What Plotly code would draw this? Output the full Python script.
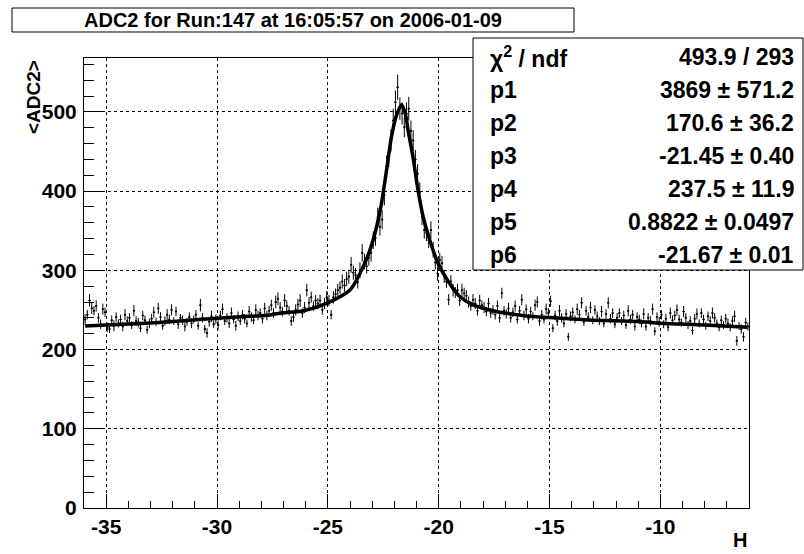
import numpy as np
import plotly.graph_objects as go

# ---- profile data: bin centres (0.1 wide bins from -36 to -6), mean ADC2 and its error ----
bin_lo = -36.0
bin_width = 0.1
adc_mean = [
    238, 244, 262, 252, 249, 255, 240, 232, 251, 247,
    228, 226, 237, 230, 241, 233, 238, 229, 244, 236,
    240, 231, 249, 236, 234, 227, 243, 237, 225, 233,
    239, 247, 235, 252, 241, 230, 236, 244, 238, 250,
    236, 248, 232, 240, 237, 229, 235, 241, 233, 238,
    244, 230, 256, 240, 226, 221, 235, 242, 232, 238,
    231, 243, 251, 236, 240, 233, 246, 238, 230, 242,
    236, 244, 239, 233, 248, 241, 237, 250, 243, 246,
    239, 252, 243, 249, 256, 246, 260, 264, 253, 248,
    262, 255, 249, 236, 241, 250, 257, 262, 246, 253,
    275, 259, 266, 255, 262, 258, 262, 250, 258, 266,
    262, 244, 266, 270, 275, 278, 286, 281, 289, 292,
    307, 297, 294, 285, 300, 322, 311, 305, 316, 322,
    338, 341, 367, 355, 364, 395, 431, 443, 464, 489,
    512, 531, 504, 498, 481, 498, 504, 476, 464, 440,
    422, 399, 368, 351, 347, 338, 351, 326, 310, 296,
    313, 309, 292, 286, 263, 286, 275, 272, 275, 262,
    275, 271, 268, 260, 255, 263, 258, 249, 262, 256,
    253, 248, 258, 246, 250, 244, 255, 240, 271, 249,
    245, 252, 240, 247, 255, 238, 249, 263, 243, 251,
    239, 248, 242, 256, 260, 236, 244, 238, 251, 246,
    261, 227, 243, 236, 249, 240, 233, 245, 216, 242,
    247, 238, 251, 244, 259, 235, 249, 241, 253, 237,
    250, 242, 236, 248, 233, 245, 259, 239, 246, 232,
    240, 246, 236, 243, 231, 249, 238, 244, 229, 241,
    238, 233, 245, 229, 240, 236, 251, 223, 241, 235,
    244, 232, 239, 228, 246, 237, 243, 250, 238, 234,
    248, 240, 231, 236, 224, 239, 245, 233, 246, 238,
    230, 242, 236, 246, 240, 233, 228, 237, 231, 239,
    233, 228, 236, 242, 211, 230, 226, 216, 234, 229,
]
adc_err = [
    7, 6, 8, 7, 6, 7, 6, 6, 7, 6,
    6, 5, 6, 7, 6, 5, 6, 6, 7, 6,
    6, 5, 7, 6, 6, 5, 6, 6, 5, 6,
    6, 7, 5, 7, 6, 5, 6, 7, 6, 7,
    5, 6, 6, 5, 6, 6, 5, 6, 6, 5,
    6, 5, 8, 6, 5, 6, 6, 7, 5, 6,
    6, 6, 7, 5, 6, 6, 7, 5, 6, 6,
    5, 6, 6, 5, 7, 6, 5, 7, 6, 6,
    6, 7, 6, 6, 7, 6, 8, 8, 7, 6,
    8, 7, 6, 6, 6, 7, 7, 8, 6, 7,
    8, 7, 7, 6, 7, 7, 7, 6, 7, 8,
    7, 6, 8, 7, 8, 8, 9, 8, 9, 9,
    10, 9, 9, 8, 10, 11, 10, 9, 10, 11,
    11, 10, 12, 11, 12, 13, 14, 13, 14, 15,
    15, 16, 14, 14, 13, 14, 15, 13, 13, 12,
    12, 12, 11, 11, 10, 10, 11, 10, 9, 9,
    9, 9, 8, 8, 7, 8, 8, 7, 8, 7,
    8, 7, 7, 7, 6, 7, 7, 6, 7, 6,
    7, 6, 7, 6, 6, 6, 7, 6, 7, 6,
    6, 7, 6, 6, 7, 5, 6, 7, 6, 6,
    6, 6, 5, 7, 7, 6, 6, 5, 7, 6,
    7, 5, 6, 6, 7, 6, 5, 6, 5, 6,
    6, 5, 7, 6, 7, 5, 6, 6, 7, 5,
    6, 6, 5, 7, 5, 6, 7, 6, 6, 5,
    6, 6, 5, 6, 5, 7, 6, 6, 5, 6,
    6, 5, 7, 5, 6, 6, 7, 5, 6, 6,
    6, 5, 6, 5, 7, 6, 6, 7, 6, 5,
    7, 6, 5, 6, 5, 6, 7, 5, 6, 6,
    5, 6, 6, 7, 6, 5, 5, 6, 5, 6,
    6, 5, 6, 7, 6, 5, 6, 6, 6, 5,
]
bin_centre = [bin_lo + bin_width * (i + 0.5) for i in range(len(adc_mean))]

# ---- fitted curve, sampled along H ----
fit_h = [-35.95, -35.0, -33.0, -31.66, -30.0, -28.5, -27.6, -27.16, -26.1, -25.0,
         -24.0, -23.55, -23.1, -22.8, -22.58, -22.35, -22.13, -21.9, -21.67,
         -21.5, -21.38, -21.16, -20.93, -20.7, -20.4, -20.03, -19.5, -19.05,
         -18.45, -17.7, -16.95, -16.05, -15.0, -13.2, -10.94, -10.0, -8.0, -6.05]
fit_adc = [229.8, 231.0, 233.5, 236.1, 239.5, 242.0, 243.7, 245.8, 249.0, 259.0,
           275.2, 296.0, 325.6, 355.0, 384.5, 426.5, 468.5, 496.0, 509.0,
           497.0, 477.0, 443.0, 401.0, 367.6, 338.0, 309.0, 283.0, 267.0,
           256.3, 250.0, 245.8, 242.4, 240.3, 237.4, 235.3, 233.2, 231.0, 228.2]

# ---- text content ----
title_text = "ADC2 for Run:147 at 16:05:57 on 2006-01-09"
x_title = "H"
y_title = "&lt;ADC2&gt;"
stat_names = ["χ<sup>2</sup> / ndf", "p1", "p2", "p3", "p4", "p5", "p6"]
stat_values = ["493.9 / 293",
               "3869 ± 571.2",
               "170.6 ± 36.2",
               "-21.45 ± 0.40",
               "237.5 ± 11.9",
               "0.8822 ± 0.0497",
               "-21.67 ± 0.01"]
x_ticks = [-35, -30, -25, -20, -15, -10]
y_ticks = [0, 100, 200, 300, 400, 500]

# ---- page geometry (pixels) ----
W, H = 804, 554
ML, MR, MT, MB = 84, 55, 58, 46
PW, PH = W - ML - MR, H - MT - MB


def px(x):
    return (x - ML) / PW


def py(y):
    return (H - MB - y) / PH


FONT = "Liberation Sans"
BOLD = dict(family=FONT, color="black", weight="bold")

fig = go.Figure()

fig.add_trace(go.Scatter(
    x=bin_centre, y=adc_mean, mode="markers",
    marker=dict(color="black", size=2),
    error_y=dict(type="data", array=adc_err, color="black", thickness=1, width=0),
    error_x=dict(type="constant", value=bin_width / 2, color="black", thickness=1, width=0),
    showlegend=False, hoverinfo="skip",
))

fig.add_trace(go.Scatter(
    x=fit_h, y=fit_adc, mode="lines",
    line=dict(color="black", width=3.5, shape="spline", smoothing=0.8),
    showlegend=False, hoverinfo="skip",
))

axis_common = dict(
    showline=True, linecolor="black", linewidth=1, mirror=True,
    showgrid=True, gridcolor="black", gridwidth=1, griddash="dot",
    zeroline=False, ticks="inside", tickcolor="black", tickwidth=1,
    tickfont=dict(size=21, **BOLD),
)

fig.update_xaxes(
    range=[-36, -6], tickmode="array", tickvals=x_ticks,
    ticktext=[str(v) for v in x_ticks], ticklen=14, ticklabelstandoff=0,
    minor=dict(ticks="inside", ticklen=7, dtick=1, tick0=-36, tickcolor="black",
               tickwidth=1, showgrid=False),
    **axis_common,
)
fig.update_yaxes(
    range=[0, 568], tickmode="array", tickvals=y_ticks,
    ticktext=[str(v) for v in y_ticks], ticklen=20, ticklabelstandoff=2,
    minor=dict(ticks="inside", ticklen=10, dtick=20, tick0=0, tickcolor="black",
               tickwidth=1, showgrid=False),
    **axis_common,
)

shapes = [
    # title box
    dict(type="rect", xref="paper", yref="paper",
         x0=px(12), x1=px(574), y0=py(32), y1=py(8),
         line=dict(color="black", width=1), fillcolor="white", layer="above"),
    # fit statistics box
    dict(type="rect", xref="paper", yref="paper",
         x0=px(473), x1=px(803), y0=py(270), y1=py(38),
         line=dict(color="black", width=1), fillcolor="white", layer="above"),
]

annotations = [
    dict(text=title_text, x=px(293), y=py(20), xref="paper", yref="paper",
         xanchor="center", yanchor="middle", showarrow=False,
         font=dict(size=20, **BOLD)),
    dict(text=x_title, x=px(749), y=py(553), xref="paper", yref="paper",
         xanchor="right", yanchor="bottom", showarrow=False,
         font=dict(size=20, **BOLD)),
    dict(text=y_title, x=px(33), y=py(58), xref="paper", yref="paper",
         xanchor="center", yanchor="top", textangle=-90, showarrow=False,
         font=dict(size=19, **BOLD)),
]

row_y = [57, 90, 123, 156, 189, 222, 255]
for name, val, ry in zip(stat_names, stat_values, row_y):
    annotations.append(dict(text=name, x=px(488), y=py(ry), xref="paper", yref="paper",
                            xanchor="left", yanchor="middle", showarrow=False,
                            font=dict(size=23, **BOLD)))
    annotations.append(dict(text=val, x=px(796), y=py(ry), xref="paper", yref="paper",
                            xanchor="right", yanchor="middle", showarrow=False,
                            font=dict(size=23, **BOLD)))

fig.update_layout(
    width=W, height=H,
    margin=dict(l=ML, r=MR, t=MT, b=MB, autoexpand=False),
    paper_bgcolor="white", plot_bgcolor="white",
    shapes=shapes, annotations=annotations,
    showlegend=False,
)

fig.write_html("out.html", config={"displayModeBar": False})
